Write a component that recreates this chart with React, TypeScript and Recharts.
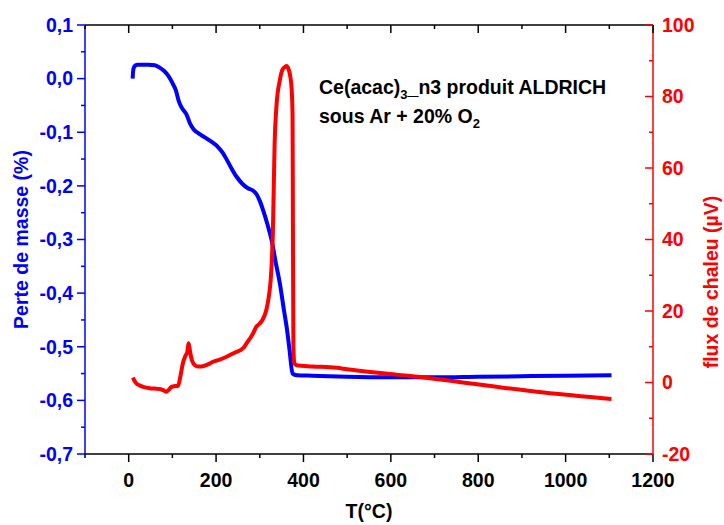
import React from "react";
import { LineChart, Line, XAxis, YAxis, Customized } from "recharts";

// ---- Data ----
const tgTemps = [9, 10, 12, 16, 20, 30, 45, 60, 70, 80, 90, 100, 108, 115, 122, 132, 140, 148, 160, 175, 190, 205, 215, 225, 235, 247, 260, 272, 285, 293, 300, 308, 318, 327, 337, 346, 355, 362, 368, 375, 385, 420, 500, 600, 700, 800, 900, 1000, 1105];
const tgValues = [0.0, 0.012, 0.021, 0.025, 0.026, 0.026, 0.026, 0.025, 0.021, 0.015, 0.006, -0.008, -0.022, -0.043, -0.055, -0.066, -0.083, -0.094, -0.102, -0.11, -0.118, -0.128, -0.138, -0.152, -0.167, -0.183, -0.196, -0.204, -0.209, -0.216, -0.228, -0.246, -0.273, -0.301, -0.345, -0.382, -0.43, -0.466, -0.505, -0.55, -0.553, -0.554, -0.556, -0.557, -0.557, -0.556, -0.555, -0.554, -0.553];

const dscTemps = [10, 13, 18, 25, 35, 48, 60, 71, 80, 86, 92, 98, 106, 113, 118, 124, 130, 134, 137, 140, 144, 150, 158, 167, 180, 193, 210, 224, 240, 262, 270, 285, 292, 300, 306, 315, 320, 325, 328, 330, 334, 338, 346, 352, 358, 361, 366, 370, 373, 375, 376, 377, 379, 384, 420, 476, 500, 613, 689, 760, 842, 950, 1105];
const dscValues = [1.4, 0.5, -0.3, -0.8, -1.3, -1.6, -1.7, -1.8, -2.2, -2.6, -2.0, -1.2, -1.0, -0.9, 1.5, 5.4, 7.5, 8.5, 11.0, 9.0, 6.5, 5.0, 4.5, 4.5, 5.0, 5.8, 6.5, 7.2, 8.2, 9.6, 11.0, 13.8, 15.6, 16.5, 17.5, 20.3, 23.5, 28.7, 35.0, 42.0, 67.0, 77.0, 84.6, 87.5, 88.3, 88.5, 87.6, 85.5, 82.0, 75.0, 40.0, 10.0, 5.5, 4.8, 4.5, 4.1, 3.7, 2.2, 1.2, 0.1, -1.2, -2.8, -4.6];

const xTicks = [-100, 0, 100, 200, 300, 400, 500, 600, 700, 800, 900, 1000, 1100, 1200];
const leftTicks = [-0.7, -0.65, -0.6, -0.55, -0.5, -0.45, -0.4, -0.35, -0.3, -0.25, -0.2, -0.15, -0.1, -0.05, 0.0, 0.05, 0.1];
const rightTicks = [-20, -10, 0, 10, 20, 30, 40, 50, 60, 70, 80, 90, 100];

const xTitle = "T(°C)";
const leftTitle = "Perte de masse (%)";
const rightTitle = "flux de chaleu (µV)";

const tgData = tgTemps.map((x, i) => ({ x, y: tgValues[i] }));
const dscData = dscTemps.map((x, i) => ({ x, y: dscValues[i] }));

const BLUE = "#0000FF";
const RED = "#FF0000";
const FONT = "'Liberation Sans', Arial, Helvetica, sans-serif";
const FS = 19.5;

const fmtLeft = (v: number) => {
  const s = v.toFixed(1);
  return (s === "-0.0" ? "0.0" : s).replace(".", ",");
};

const LeftTick = (props: any) => {
  const { x, y, payload } = props;
  const v = payload.value as number;
  const major = Math.round(Math.abs(v) * 20) % 2 === 0;
  return (
    <g>
      <line x1={x - (major ? 8 : 4)} x2={x} y1={y} y2={y} stroke={BLUE} strokeWidth={1.5} />
      {major && (
        <text x={x - 12} y={y} dy="0.35em" textAnchor="end" fill={BLUE} fontSize={FS} fontWeight="bold" fontFamily={FONT}>
          {fmtLeft(v)}
        </text>
      )}
    </g>
  );
};

const RightTick = (props: any) => {
  const { x, y, payload } = props;
  const v = payload.value as number;
  const major = v % 20 === 0;
  return (
    <g>
      <line x1={x - (major ? 8 : 4)} x2={x} y1={y} y2={y} stroke={RED} strokeWidth={1.5} />
      {major && (
        <text x={x + 9} y={y} dy="0.35em" textAnchor="start" fill={RED} fontSize={FS} fontWeight="bold" fontFamily={FONT}>
          {String(v)}
        </text>
      )}
    </g>
  );
};

const BottomTick = (props: any) => {
  const { x, y, payload } = props;
  const v = payload.value as number;
  const major = v % 200 === 0;
  return (
    <g>
      <line x1={x} x2={x} y1={y} y2={y + (major ? 8 : 4)} stroke="#000" strokeWidth={1.5} />
      {major && (
        <text x={x} y={y + 33} textAnchor="middle" fill="#000" fontSize={FS} fontWeight="bold" fontFamily={FONT}>
          {String(v)}
        </text>
      )}
    </g>
  );
};

const TopTick = (props: any) => {
  const { x, y, payload } = props;
  const v = payload.value as number;
  const major = v % 200 === 0;
  return <line x1={x} x2={x} y1={y} y2={y + (major ? 8 : 4)} stroke="#000" strokeWidth={1.5} />;
};

const Annotation = () => (
  <g fontFamily={FONT} fontWeight="bold" fill="#000">
    <text x={319} y={94} fontSize={FS}>
      Ce(acac)
      <tspan fontSize={13} dy={5}>3</tspan>
      <tspan dy={-5}>_n3 produit ALDRICH</tspan>
    </text>
    <text x={319} y={123} fontSize={FS}>
      sous Ar + 20% O
      <tspan fontSize={13} dy={5}>2</tspan>
    </text>
  </g>
);

export default function App() {
  return (
    <div style={{ position: "absolute", left: 0, top: 0, width: 724, height: 525, background: "#fff" }}>
      <LineChart width={724} height={525} margin={{ top: 0, right: 0, bottom: 0, left: 0 }}>
        <XAxis
          xAxisId="top"
          orientation="top"
          type="number"
          dataKey="x"
          domain={[-100, 1200]}
          ticks={xTicks}
          interval={0}
          height={25}
          tickSize={0}
          tickMargin={0}
          tickLine={false}
          tick={<TopTick />}
          axisLine={{ stroke: "#000", strokeWidth: 1.5 }}
          allowDataOverflow
        />
        <XAxis
          xAxisId="bottom"
          orientation="bottom"
          type="number"
          dataKey="x"
          domain={[-100, 1200]}
          ticks={xTicks}
          interval={0}
          height={71}
          tickSize={0}
          tickMargin={0}
          tickLine={false}
          tick={<BottomTick />}
          axisLine={{ stroke: "#000", strokeWidth: 1.5 }}
          allowDataOverflow
          label={{
            content: (p: any) => {
              const vb = p.viewBox || { x: 85, y: 454, width: 568 };
              return (
                <text x={vb.x + vb.width / 2} y={vb.y + 64} textAnchor="middle" fontSize={FS} fontWeight="bold" fontFamily={FONT} fill="#000">
                  {xTitle}
                </text>
              );
            },
          }}
        />
        <YAxis
          yAxisId="left"
          orientation="left"
          type="number"
          domain={[-0.7, 0.1]}
          ticks={leftTicks}
          interval={0}
          width={85}
          tickSize={0}
          tickMargin={0}
          tickLine={false}
          tick={<LeftTick />}
          axisLine={{ stroke: BLUE, strokeWidth: 1.5 }}
          allowDataOverflow
          label={{
            content: (p: any) => {
              const vb = p.viewBox || { x: 0, y: 25, width: 85, height: 429 };
              const cx = vb.x + 28;
              const cy = vb.y + vb.height / 2;
              return (
                <text x={cx} y={cy} transform={`rotate(-90, ${cx}, ${cy})`} textAnchor="middle" fontSize={FS} fontWeight="bold" fontFamily={FONT} fill={BLUE}>
                  {leftTitle}
                </text>
              );
            },
          }}
        />
        <YAxis
          yAxisId="right"
          orientation="right"
          type="number"
          domain={[-20, 100]}
          ticks={rightTicks}
          interval={0}
          width={71}
          tickSize={0}
          tickMargin={0}
          tickLine={false}
          tick={<RightTick />}
          axisLine={{ stroke: RED, strokeWidth: 1.5 }}
          allowDataOverflow
          label={{
            content: (p: any) => {
              const vb = p.viewBox || { x: 653, y: 25, width: 71, height: 429 };
              const cx = vb.x + 64.5;
              const cy = 282;
              return (
                <text x={cx} y={cy} transform={`rotate(-90, ${cx}, ${cy})`} textAnchor="middle" fontSize={FS} fontWeight="bold" fontFamily={FONT} fill={RED}>
                  {rightTitle}
                </text>
              );
            },
          }}
        />
        <Line
          xAxisId="bottom"
          yAxisId="left"
          data={tgData}
          dataKey="y"
          type="monotone"
          stroke={BLUE}
          strokeWidth={4}
          dot={false}
          activeDot={false}
          isAnimationActive={false}
        />
        <Line
          xAxisId="bottom"
          yAxisId="right"
          data={dscData}
          dataKey="y"
          type="monotone"
          stroke={RED}
          strokeWidth={4}
          dot={false}
          activeDot={false}
          isAnimationActive={false}
        />
        <Customized component={Annotation} />
      </LineChart>
    </div>
  );
}
